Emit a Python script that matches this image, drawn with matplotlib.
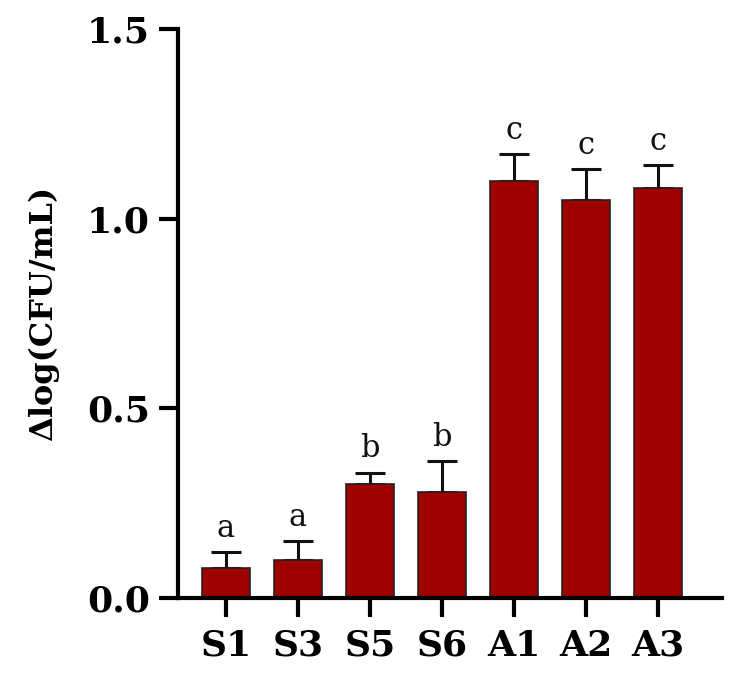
import matplotlib
matplotlib.use("Agg")
import matplotlib.pyplot as plt
import numpy as np

categories = ["S1", "S3", "S5", "S6", "A1", "A2", "A3"]
values = [0.08, 0.10, 0.30, 0.28, 1.10, 1.05, 1.08]
errors = [0.04, 0.05, 0.03, 0.08, 0.07, 0.08, 0.06]
letters = ["a", "a", "b", "b", "c", "c", "c"]
yticks = [0.0, 0.5, 1.0, 1.5]

plt.rcParams['font.family'] = ['DejaVu Serif']

fig = plt.figure(figsize=(7.44, 6.87), dpi=100)
ax = fig.add_axes([0.239, 0.1296, 0.731, 0.8284])

x = np.arange(len(categories))
ax.bar(x, values, width=0.67, color="#9E0000", edgecolor="#222222", linewidth=1.2, zorder=2)
ax.errorbar(x, values, yerr=[np.zeros(len(values)), errors], fmt="none",
            ecolor="#111111", elinewidth=2.2, capsize=11, capthick=2.2, zorder=1)
for xi, v, e, l in zip(x, values, errors, letters):
    ax.text(xi, v + e + 0.022, l, ha="center", va="bottom", fontsize=22, color="#111111")

ax.set_xlim(-0.67, 6.89)
ax.set_ylim(0, 1.5)
ax.set_yticks(yticks)
ax.set_yticklabels([f"{t:.1f}" for t in yticks], fontsize=26, fontweight="bold")
ax.set_xticks(x)
ax.set_xticklabels(categories, fontsize=26, fontweight="bold")
ax.set_ylabel("Δlog(CFU/mL)", fontsize=23, fontweight="bold", labelpad=20)

for s in ["top", "right"]:
    ax.spines[s].set_visible(False)
for s in ["left", "bottom"]:
    ax.spines[s].set_linewidth(3)
ax.tick_params(axis="both", width=3, length=14, pad=6)
ax.tick_params(axis="x", pad=8)

fig.savefig("out.png", dpi=100)
